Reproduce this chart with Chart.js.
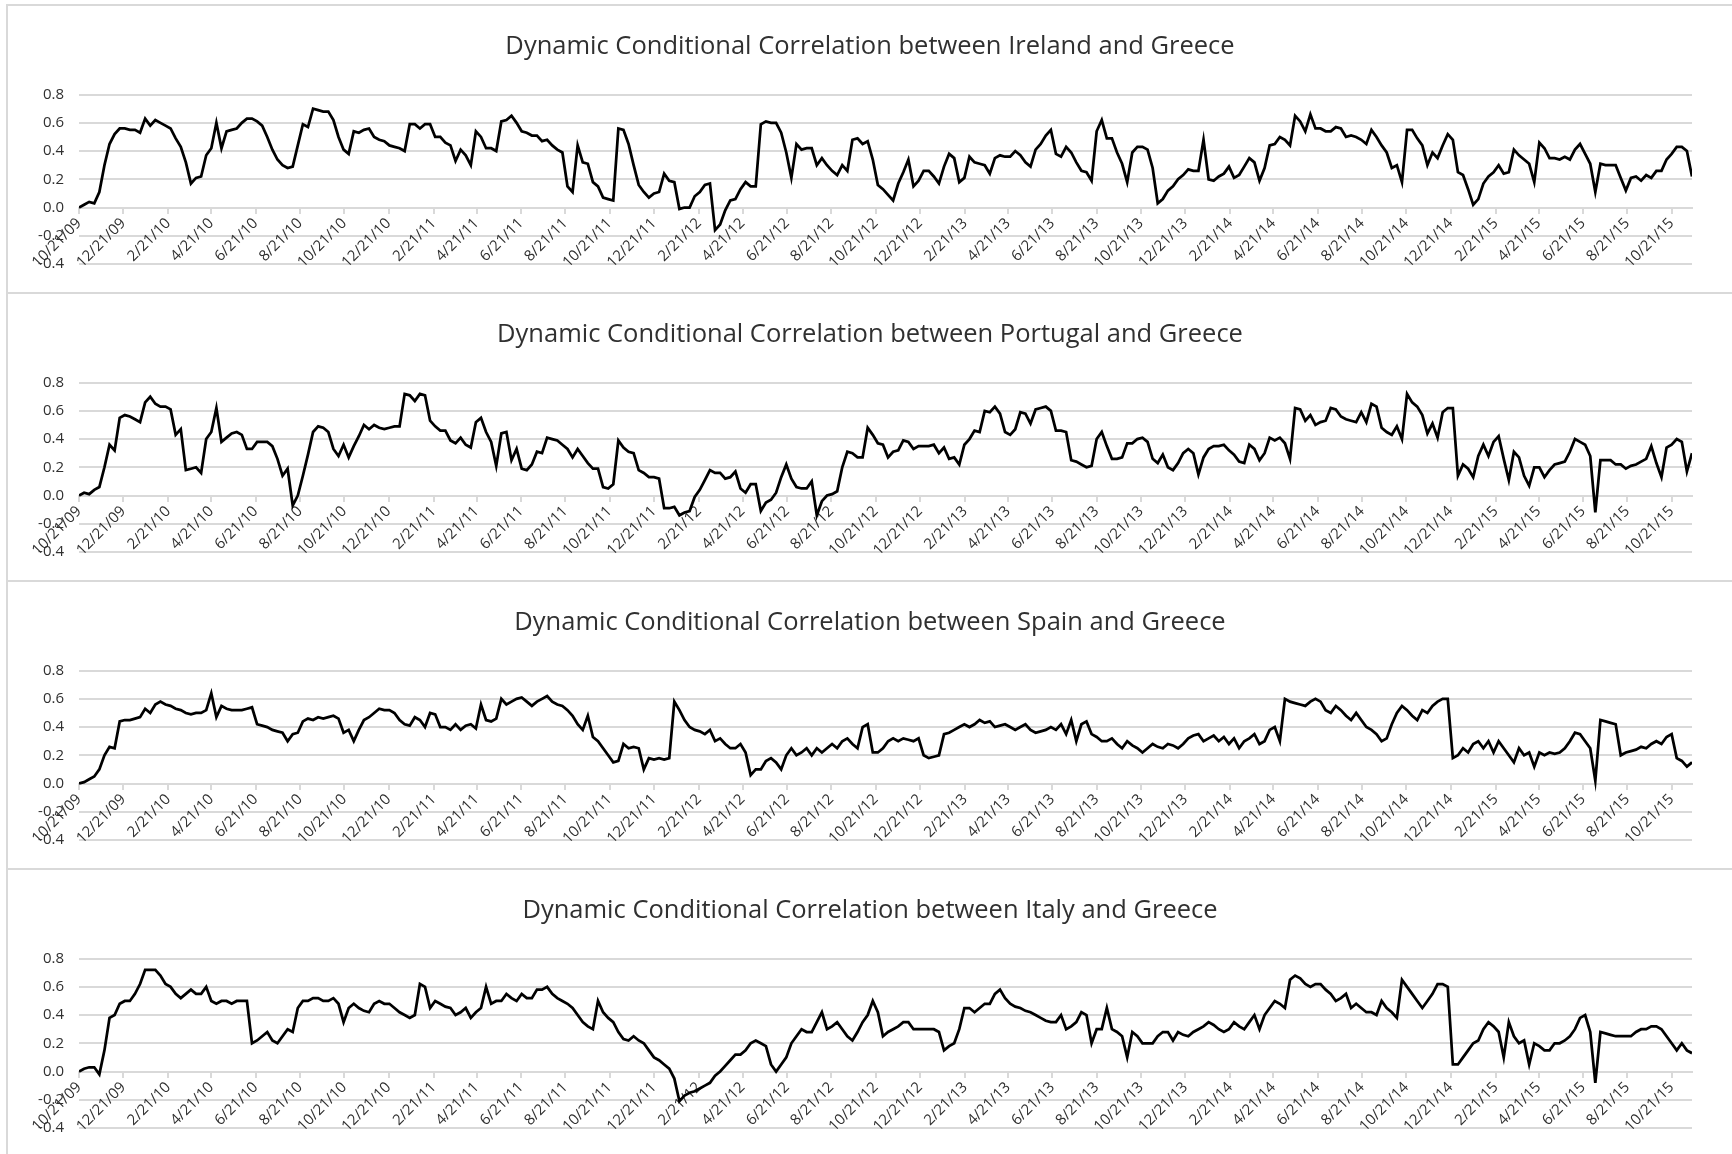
<!DOCTYPE html>
<html>
<head>
<meta charset="utf-8">
<title>Dynamic Conditional Correlations with Greece</title>
<script src="https://cdn.jsdelivr.net/npm/chart.js@4.4.1/dist/chart.umd.min.js"></script>
<style>
  html, body { margin: 0; padding: 0; background: #fff; overflow: hidden; }
  body { width: 1732px; height: 1154px; position: relative; }
  .panel { position: absolute; left: 6px; width: 1740px; height: 290px; box-sizing: border-box; border: 2px solid #d9d9d9; }
  .panel canvas { display: block; }
</style>
</head>
<body>
<div class="panel" style="top:4px"><canvas id="chartIreland" width="1724" height="286"></canvas></div>
<div class="panel" style="top:292px"><canvas id="chartPortugal" width="1724" height="286"></canvas></div>
<div class="panel" style="top:580px"><canvas id="chartSpain" width="1724" height="286"></canvas></div>
<div class="panel" style="top:868px"><canvas id="chartItaly" width="1724" height="286"></canvas></div>

<script>
// weekly readings starting 10/21/09, one value per 7 days
const stepDays = 7;
const startDate = new Date(2009, 9, 21);

const tickLabels = ['10/21/09', '12/21/09', '2/21/10', '4/21/10', '6/21/10', '8/21/10', '10/21/10', '12/21/10',
  '2/21/11', '4/21/11', '6/21/11', '8/21/11', '10/21/11', '12/21/11', '2/21/12', '4/21/12', '6/21/12', '8/21/12',
  '10/21/12', '12/21/12', '2/21/13', '4/21/13', '6/21/13', '8/21/13', '10/21/13', '12/21/13', '2/21/14', '4/21/14',
  '6/21/14', '8/21/14', '10/21/14', '12/21/14', '2/21/15', '4/21/15', '6/21/15', '8/21/15', '10/21/15'];

const yTicks = { min: -0.4, max: 0.8, step: 0.2 };

const irelandDcc = [
  0.00, 0.02, 0.04, 0.03, 0.11, 0.30, 0.45, 0.52, 0.56,
  0.56, 0.55, 0.55, 0.53, 0.63, 0.58, 0.62, 0.60, 0.58,
  0.56, 0.49, 0.43, 0.32, 0.17, 0.21, 0.22, 0.37, 0.42,
  0.60, 0.42, 0.54, 0.55, 0.56, 0.60, 0.63, 0.63,
  0.61, 0.58, 0.50, 0.41, 0.34, 0.30, 0.28, 0.29, 0.44,
  0.59, 0.57, 0.70, 0.69, 0.68, 0.68, 0.62, 0.50, 0.41,
  0.38, 0.54, 0.53, 0.55, 0.56, 0.50, 0.48, 0.47, 0.44,
  0.43, 0.42, 0.40, 0.59, 0.59, 0.56, 0.59, 0.59, 0.50,
  0.50, 0.46, 0.44, 0.33, 0.41, 0.37, 0.30, 0.54,
  0.50, 0.42, 0.42, 0.40, 0.61, 0.62, 0.65, 0.60,
  0.54, 0.53, 0.51, 0.51, 0.47, 0.48, 0.44, 0.41, 0.39,
  0.15, 0.11, 0.44, 0.32, 0.31, 0.18, 0.15, 0.07, 0.06, 0.05,
  0.56, 0.55, 0.45, 0.30, 0.16, 0.11, 0.07, 0.10, 0.11, 0.24,
  0.19, 0.18, -0.01, 0.00, 0.00, 0.08, 0.11, 0.16, 0.17, -0.16,
  -0.12, -0.02, 0.05, 0.06, 0.13, 0.18, 0.15, 0.15, 0.59, 0.61,
  0.60, 0.60, 0.53, 0.39, 0.21, 0.45, 0.41, 0.42, 0.42, 0.30,
  0.35, 0.30, 0.26, 0.23, 0.30, 0.26, 0.48, 0.49, 0.45, 0.47,
  0.34, 0.16, 0.13, 0.09, 0.05, 0.17, 0.25, 0.34, 0.15, 0.19,
  0.26, 0.26, 0.22, 0.17, 0.29, 0.38, 0.35, 0.18, 0.21, 0.36,
  0.32, 0.31, 0.30, 0.24, 0.35, 0.37, 0.36, 0.36, 0.40, 0.37,
  0.32, 0.29, 0.41, 0.45, 0.51, 0.55, 0.38, 0.36, 0.43, 0.39,
  0.32, 0.26, 0.25, 0.19, 0.54, 0.62, 0.49, 0.49, 0.39, 0.31,
  0.18, 0.39, 0.43, 0.43, 0.41, 0.28, 0.03,
  0.06, 0.12, 0.15, 0.20, 0.23, 0.27, 0.26, 0.26, 0.48, 0.20,
  0.19, 0.22, 0.24, 0.29, 0.21, 0.23, 0.29, 0.35, 0.32, 0.19,
  0.28, 0.44, 0.45, 0.50, 0.48, 0.44, 0.65, 0.61, 0.54, 0.66,
  0.56, 0.56, 0.54, 0.54, 0.57, 0.56, 0.50, 0.51, 0.50, 0.48,
  0.45, 0.55, 0.50, 0.44, 0.39, 0.28, 0.30, 0.18, 0.55, 0.55,
  0.49, 0.44, 0.30, 0.39, 0.35, 0.44, 0.52, 0.48, 0.25, 0.23,
  0.13, 0.02, 0.06, 0.17, 0.22, 0.25, 0.30, 0.24, 0.25, 0.41,
  0.37, 0.34, 0.31, 0.18, 0.46, 0.42, 0.35, 0.35, 0.34, 0.36,
  0.34, 0.41, 0.45, 0.38, 0.31, 0.11, 0.31, 0.30, 0.30, 0.30,
  0.21, 0.12, 0.21, 0.22, 0.19, 0.23, 0.21, 0.26, 0.26, 0.34,
  0.38, 0.43, 0.43, 0.40, 0.22
];

const portugalDcc = [
  0.00, 0.02, 0.01, 0.04, 0.06, 0.20, 0.36, 0.32, 0.55,
  0.57, 0.56, 0.54, 0.52, 0.66, 0.70, 0.65, 0.63, 0.63,
  0.61, 0.43, 0.47, 0.18, 0.19, 0.20, 0.16, 0.40, 0.45,
  0.62, 0.38, 0.41, 0.44, 0.45, 0.43, 0.33, 0.33,
  0.38, 0.38, 0.38, 0.35, 0.26, 0.14, 0.19, -0.07, 0.00,
  0.14, 0.29, 0.45, 0.49, 0.48, 0.45, 0.33, 0.28, 0.36,
  0.27, 0.35, 0.42, 0.50, 0.47, 0.50, 0.48, 0.47, 0.48,
  0.49, 0.49, 0.72, 0.71, 0.67, 0.72, 0.71, 0.53, 0.49,
  0.46, 0.46, 0.39, 0.37, 0.41, 0.36, 0.34, 0.52,
  0.55, 0.45, 0.38, 0.21, 0.44, 0.45, 0.25, 0.33,
  0.19, 0.18, 0.22, 0.31, 0.30, 0.41, 0.40, 0.39, 0.36,
  0.33, 0.27, 0.33, 0.28, 0.23, 0.19, 0.19, 0.06, 0.05, 0.08,
  0.39, 0.34, 0.31, 0.30, 0.18, 0.16, 0.13, 0.13, 0.12, -0.09,
  -0.09, -0.08, -0.14, -0.12, -0.11, -0.01, 0.04, 0.11, 0.18, 0.16,
  0.16, 0.12, 0.13, 0.17, 0.05, 0.02, 0.08, 0.08, -0.11, -0.05,
  -0.03, 0.02, 0.13, 0.22, 0.12, 0.06, 0.05, 0.05, 0.10, -0.14,
  -0.04, 0.00, 0.01, 0.03, 0.20, 0.31, 0.30, 0.27, 0.27, 0.48,
  0.43, 0.37, 0.36, 0.27, 0.31, 0.32, 0.39, 0.38, 0.33, 0.35,
  0.35, 0.35, 0.36, 0.30, 0.34, 0.26, 0.27, 0.22, 0.36, 0.40,
  0.46, 0.45, 0.60, 0.59, 0.63, 0.58, 0.45, 0.43, 0.47, 0.59,
  0.58, 0.51, 0.61, 0.62, 0.63, 0.60, 0.46, 0.46, 0.45, 0.25,
  0.24, 0.22, 0.20, 0.21, 0.40, 0.45, 0.35, 0.26, 0.26, 0.27,
  0.37, 0.37, 0.40, 0.41, 0.38, 0.26, 0.23,
  0.29, 0.20, 0.18, 0.23, 0.30, 0.33, 0.30, 0.15, 0.27, 0.33,
  0.35, 0.35, 0.36, 0.32, 0.29, 0.24, 0.23, 0.36, 0.33, 0.25,
  0.30, 0.41, 0.39, 0.41, 0.37, 0.26, 0.62, 0.61, 0.53, 0.57,
  0.50, 0.52, 0.53, 0.62, 0.61, 0.56, 0.54, 0.53, 0.52, 0.59,
  0.52, 0.65, 0.63, 0.48, 0.45, 0.43, 0.49, 0.40, 0.72, 0.66,
  0.63, 0.57, 0.44, 0.51, 0.41, 0.59, 0.62, 0.62, 0.14, 0.22,
  0.19, 0.13, 0.28, 0.36, 0.28, 0.38, 0.42, 0.26, 0.11, 0.31,
  0.27, 0.14, 0.07, 0.20, 0.20, 0.13, 0.18, 0.22, 0.23, 0.24,
  0.31, 0.40, 0.38, 0.36, 0.28, -0.12, 0.25, 0.25, 0.25, 0.22,
  0.22, 0.19, 0.21, 0.22, 0.24, 0.26, 0.35, 0.23, 0.13, 0.34,
  0.36, 0.40, 0.38, 0.17, 0.30
];

const spainDcc = [
  0.00, 0.01, 0.03, 0.05, 0.10, 0.20, 0.26, 0.25, 0.44,
  0.45, 0.45, 0.46, 0.47, 0.53, 0.50, 0.56, 0.58, 0.56,
  0.55, 0.53, 0.52, 0.50, 0.49, 0.50, 0.50, 0.52,
  0.64, 0.47, 0.55, 0.53, 0.52, 0.52, 0.52, 0.53, 0.54,
  0.42, 0.41, 0.40, 0.38, 0.37, 0.36, 0.30, 0.35, 0.36,
  0.44, 0.46, 0.45, 0.47, 0.46, 0.47, 0.48, 0.46,
  0.36, 0.38, 0.30, 0.38, 0.45, 0.47, 0.50, 0.53, 0.52,
  0.52, 0.50, 0.45, 0.42, 0.41, 0.47, 0.45, 0.40, 0.50,
  0.49, 0.40, 0.40, 0.38, 0.42, 0.38, 0.41, 0.42,
  0.39, 0.56, 0.45, 0.44, 0.46, 0.60, 0.56, 0.58, 0.60,
  0.61, 0.58, 0.55, 0.58, 0.60, 0.62, 0.58, 0.56, 0.55,
  0.52, 0.48, 0.42, 0.38, 0.48, 0.33, 0.30, 0.25,
  0.20, 0.15, 0.16, 0.28, 0.25, 0.26, 0.25, 0.10, 0.18,
  0.17, 0.18, 0.17, 0.18, 0.58, 0.52, 0.45, 0.40, 0.38,
  0.37, 0.35, 0.38, 0.30, 0.32, 0.28, 0.25, 0.25,
  0.28, 0.22, 0.06, 0.10, 0.10, 0.16, 0.18, 0.15, 0.10,
  0.20, 0.25, 0.20, 0.22, 0.25, 0.20, 0.25, 0.22, 0.25,
  0.28, 0.25, 0.30, 0.32, 0.28, 0.25, 0.40, 0.42,
  0.22, 0.22, 0.25, 0.30, 0.32, 0.30, 0.32, 0.31, 0.30,
  0.32, 0.20, 0.18, 0.19, 0.20, 0.35, 0.36, 0.38, 0.40,
  0.42, 0.40, 0.42, 0.45, 0.43, 0.44, 0.40, 0.41,
  0.42, 0.40, 0.38, 0.40, 0.42, 0.38, 0.36, 0.37, 0.38,
  0.40, 0.38, 0.42, 0.35, 0.45, 0.30, 0.42, 0.44, 0.35,
  0.33, 0.30, 0.30, 0.32, 0.28, 0.25, 0.30, 0.27,
  0.25, 0.22, 0.25, 0.28, 0.26, 0.25, 0.28, 0.27, 0.25,
  0.28, 0.32, 0.34, 0.35, 0.30, 0.32, 0.34, 0.30, 0.33,
  0.28, 0.32, 0.25, 0.30, 0.32, 0.35, 0.28, 0.30,
  0.38, 0.40, 0.30, 0.60, 0.58, 0.57, 0.56, 0.55, 0.58,
  0.60, 0.58, 0.52, 0.50, 0.55, 0.52, 0.48, 0.45, 0.50,
  0.45, 0.40, 0.38, 0.35, 0.30, 0.32, 0.42, 0.50,
  0.55, 0.52, 0.48, 0.45, 0.52, 0.50, 0.55, 0.58, 0.60,
  0.60, 0.18, 0.20, 0.25, 0.22, 0.28, 0.30, 0.25, 0.30,
  0.22, 0.30, 0.25, 0.20, 0.15, 0.25, 0.20, 0.22,
  0.12, 0.22, 0.20, 0.22, 0.21, 0.22, 0.25, 0.30, 0.36,
  0.35, 0.30, 0.25, 0.02, 0.45, 0.44, 0.43, 0.42, 0.20,
  0.22, 0.23, 0.24, 0.26, 0.25, 0.28, 0.30, 0.28,
  0.33, 0.35, 0.18, 0.16, 0.12, 0.15
];

const italyDcc = [
  0.00, 0.02, 0.03, 0.03, -0.02, 0.15, 0.38, 0.40, 0.48,
  0.50, 0.50, 0.55, 0.62, 0.72, 0.72, 0.72, 0.68, 0.62,
  0.60, 0.55, 0.52, 0.55, 0.58, 0.55, 0.55, 0.60,
  0.50, 0.48, 0.50, 0.50, 0.48, 0.50, 0.50, 0.50, 0.20,
  0.22, 0.25, 0.28, 0.22, 0.20, 0.25, 0.30, 0.28, 0.45,
  0.50, 0.50, 0.52, 0.52, 0.50, 0.50, 0.52, 0.48,
  0.35, 0.45, 0.48, 0.45, 0.43, 0.42, 0.48, 0.50, 0.48,
  0.48, 0.45, 0.42, 0.40, 0.38, 0.40, 0.62, 0.60, 0.45,
  0.50, 0.48, 0.46, 0.45, 0.40, 0.42, 0.45, 0.38,
  0.42, 0.45, 0.60, 0.48, 0.50, 0.50, 0.55, 0.52, 0.50,
  0.55, 0.52, 0.52, 0.58, 0.58, 0.60, 0.55, 0.52, 0.50,
  0.48, 0.45, 0.40, 0.35, 0.32, 0.30, 0.50, 0.42,
  0.38, 0.35, 0.28, 0.23, 0.22, 0.25, 0.22, 0.20, 0.15,
  0.10, 0.08, 0.05, 0.02, -0.05, -0.21, -0.17, -0.15, -0.14,
  -0.12, -0.10, -0.08, -0.03, 0.00, 0.04, 0.08, 0.12,
  0.12, 0.15, 0.20, 0.22, 0.20, 0.18, 0.05, 0.00, 0.05,
  0.10, 0.20, 0.25, 0.30, 0.28, 0.28, 0.35, 0.42, 0.30,
  0.32, 0.35, 0.30, 0.25, 0.22, 0.28, 0.35, 0.40,
  0.50, 0.42, 0.25, 0.28, 0.30, 0.32, 0.35, 0.35, 0.30,
  0.30, 0.30, 0.30, 0.30, 0.28, 0.15, 0.18, 0.20, 0.30,
  0.45, 0.45, 0.42, 0.45, 0.48, 0.48, 0.55, 0.58,
  0.52, 0.48, 0.46, 0.45, 0.43, 0.42, 0.40, 0.38, 0.36,
  0.35, 0.35, 0.40, 0.30, 0.32, 0.35, 0.42, 0.40, 0.20,
  0.30, 0.30, 0.45, 0.30, 0.28, 0.25, 0.10, 0.28,
  0.25, 0.20, 0.20, 0.20, 0.25, 0.28, 0.28, 0.22, 0.28,
  0.26, 0.25, 0.28, 0.30, 0.32, 0.35, 0.33, 0.30, 0.28,
  0.30, 0.35, 0.32, 0.30, 0.35, 0.40, 0.30, 0.40,
  0.45, 0.50, 0.48, 0.45, 0.65, 0.68, 0.66, 0.62, 0.60,
  0.62, 0.62, 0.58, 0.55, 0.50, 0.52, 0.55, 0.45, 0.48,
  0.45, 0.42, 0.42, 0.40, 0.50, 0.45, 0.42, 0.38,
  0.65, 0.60, 0.55, 0.50, 0.45, 0.50, 0.55, 0.62, 0.62,
  0.60, 0.05, 0.05, 0.10, 0.15, 0.20, 0.22, 0.30, 0.35,
  0.32, 0.28, 0.10, 0.35, 0.25, 0.20, 0.22, 0.05,
  0.20, 0.18, 0.15, 0.15, 0.20, 0.20, 0.22, 0.25, 0.30,
  0.38, 0.40, 0.28, -0.08, 0.28, 0.27, 0.26, 0.25, 0.25,
  0.25, 0.25, 0.28, 0.30, 0.30, 0.32, 0.32, 0.30,
  0.25, 0.20, 0.15, 0.20, 0.15, 0.13
];

Chart.defaults.font.family = "'Open Sans', sans-serif";

const textColor = '#303030';
const gridColor = '#d9d9d9';

// day offset of each tick label from the first date
function dayOffset(label) {
  const [m, d, y] = label.split('/').map(Number);
  const date = new Date(2000 + y, m - 1, d);
  return Math.round((date - startDate) / 86400000);
}
const tickDays = tickLabels.map(dayOffset);

function makeChart(canvasId, title, values) {
  const points = values.map((v, i) => ({ x: i * stepDays, y: v }));
  const xMax = (values.length - 1) * stepDays;

  return new Chart(document.getElementById(canvasId), {
    type: 'line',
    data: {
      datasets: [{
        data: points,
        borderColor: '#000000',
        borderWidth: 2.75,
        pointRadius: 0,
        tension: 0,
        fill: false
      }]
    },
    options: {
      responsive: false,
      animation: false,
      events: [],
      layout: { padding: { left: 0, right: 0, top: 0, bottom: 28 } },
      plugins: {
        legend: { display: false },
        tooltip: { enabled: false },
        title: {
          display: true,
          text: title,
          color: textColor,
          font: { size: 25.5, weight: 'normal' },
          padding: { top: 25, bottom: 33 }
        }
      },
      scales: {
        x: {
          type: 'linear',
          position: { y: 0 },
          min: 0,
          max: xMax,
          afterBuildTicks: (scale) => {
            scale.ticks = tickDays.map(v => ({ value: v }));
          },
          ticks: {
            autoSkip: false,
            minRotation: 45,
            maxRotation: 45,
            padding: 2,
            color: textColor,
            font: { size: 15 },
            callback: (value) => tickLabels[tickDays.indexOf(value)]
          },
          grid: { drawOnChartArea: false, drawTicks: true, tickLength: 5, color: gridColor, lineWidth: 2 },
          border: { display: true, color: gridColor, width: 2 }
        },
        y: {
          min: yTicks.min,
          max: yTicks.max,
          afterFit: (scale) => { scale.width = 71; },
          ticks: { stepSize: yTicks.step, padding: 15, color: textColor, font: { size: 15 } },
          grid: { color: gridColor, lineWidth: 2, drawTicks: false },
          border: { display: false }
        },
        // empty right margin so the title stays centred on the whole panel
        yRight: {
          position: 'right',
          afterFit: (scale) => { scale.width = 40; },
          ticks: { display: false },
          grid: { display: false, drawTicks: false },
          border: { display: false }
        }
      }
    }
  });
}

makeChart('chartIreland', 'Dynamic Conditional Correlation between Ireland and Greece', irelandDcc);
makeChart('chartPortugal', 'Dynamic Conditional Correlation between Portugal and Greece', portugalDcc);
makeChart('chartSpain', 'Dynamic Conditional Correlation between Spain and Greece', spainDcc);
makeChart('chartItaly', 'Dynamic Conditional Correlation between Italy and Greece', italyDcc);
</script>
</body>
</html>
